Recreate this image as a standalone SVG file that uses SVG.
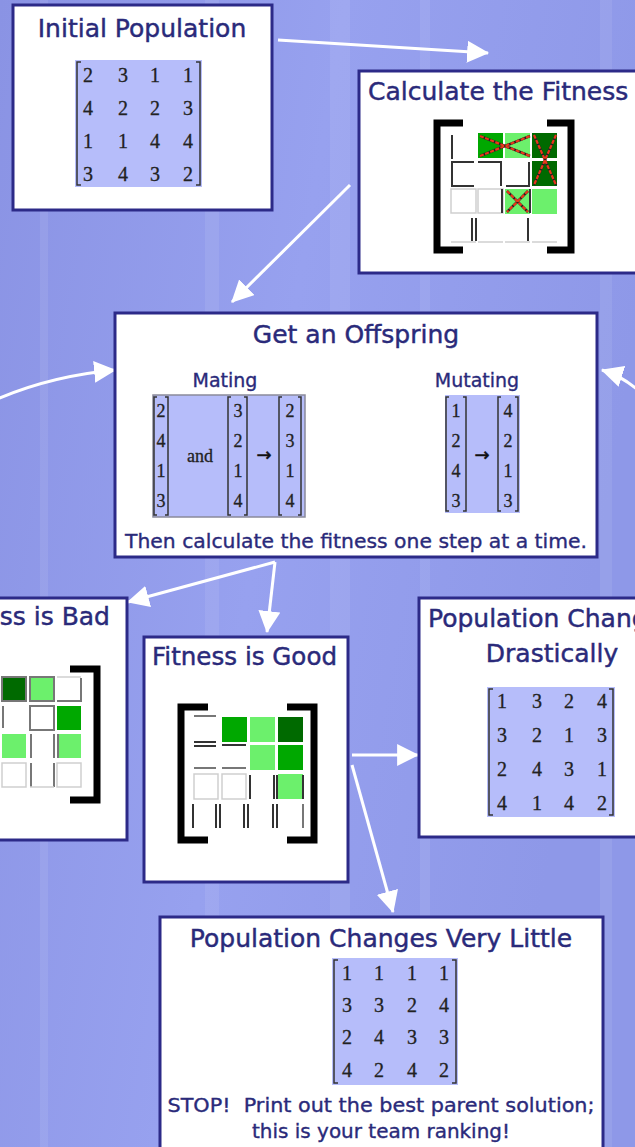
<svg xmlns="http://www.w3.org/2000/svg" width="635" height="1147" viewBox="0 0 635 1147">
<defs>
<linearGradient id="bg" x1="0" y1="0" x2="1" y2="0.3">
<stop offset="0" stop-color="#8a93e4"/>
<stop offset="0.5" stop-color="#97a1ef"/>
<stop offset="1" stop-color="#8e98e8"/>
</linearGradient>
<marker id="ah" viewBox="0 0 20 20" refX="19" refY="10" markerWidth="22" markerHeight="22" markerUnits="userSpaceOnUse" orient="auto">
<path d="M0,0 L20,10 L0,20 z" fill="#ffffff"/>
</marker>
<style>
.box{fill:#ffffff;stroke:#2c2a88;stroke-width:3}
.title{font-family:"DejaVu Sans",sans-serif;font-size:25px;fill:#2a2a7a;stroke:#2a2a7a;stroke-width:0.45}
.sub{font-family:"DejaVu Sans",sans-serif;font-size:19px;fill:#2a2a7a;stroke:#2a2a7a;stroke-width:0.35}
.num{font-family:"Liberation Serif",serif;font-size:20px;fill:#222;text-anchor:middle;stroke:#222;stroke-width:0.3}
.numS{font-family:"Liberation Serif",serif;font-size:18px;fill:#222;text-anchor:middle;stroke:#222;stroke-width:0.3}
.arr{font-family:"DejaVu Sans",sans-serif;font-size:18px;fill:#111;text-anchor:middle;stroke:#111;stroke-width:0.5}
.mbg{fill:#b6bdfa}
.brk{fill:none;stroke:#333;stroke-width:1.5}
.big{fill:none;stroke:#000;stroke-width:7}
.conn{fill:none;stroke:#ffffff;stroke-width:3;marker-end:url(#ah)}
.dg{fill:#006a00}
.mg{fill:#00a800}
.lg{fill:#6cf06c}
.dk{fill:none;stroke:#333;stroke-width:2}
.lt{fill:none;stroke:#cfcfcf;stroke-width:1.5}
.md{fill:none;stroke:#777;stroke-width:2}
.rxb{fill:none;stroke:#222;stroke-width:2.6}
.rx{fill:none;stroke:#e8381a;stroke-width:2.2;stroke-dasharray:4 1.5}
</style>
</defs>
<rect x="0" y="0" width="635" height="1147" fill="url(#bg)"/>
<g opacity="0.08" fill="#ffffff">
<rect x="205" y="0" width="14" height="1147"/>
<rect x="330" y="0" width="20" height="1147"/>
<rect x="600" y="0" width="12" height="1147"/>
<rect x="40" y="0" width="8" height="1147"/>
<rect x="420" y="0" width="10" height="1147"/>
</g>

<g id="connectors">
<line class="conn" x1="278" y1="40" x2="488" y2="53"/>
<line class="conn" x1="350" y1="185" x2="232" y2="302"/>
<path class="conn" d="M-5,400 Q50,376 115,370"/>
<path class="conn" d="M640,392 Q624,377 602,370"/>
<line class="conn" x1="275" y1="562" x2="128" y2="602"/>
<line class="conn" x1="275" y1="562" x2="267" y2="632"/>
<line class="conn" x1="352" y1="755" x2="418" y2="755"/>
<line class="conn" x1="352" y1="765" x2="393" y2="912"/>
</g>

<g id="initial-population">
<rect class="box" x="13" y="5" width="259" height="205"/>
<text class="title" x="142" y="37" text-anchor="middle">Initial Population</text>
<rect class="mbg" x="75" y="60" width="127" height="127"/>
<path class="brk" d="M81,62 H77 V185 H81 M196,62 H200 V185 H196"/>
<text class="num" x="88" y="82">2</text><text class="num" x="123" y="82">3</text><text class="num" x="155" y="82">1</text><text class="num" x="188" y="82">1</text>
<text class="num" x="88" y="115">4</text><text class="num" x="123" y="115">2</text><text class="num" x="155" y="115">2</text><text class="num" x="188" y="115">3</text>
<text class="num" x="88" y="148">1</text><text class="num" x="123" y="148">1</text><text class="num" x="155" y="148">4</text><text class="num" x="188" y="148">4</text>
<text class="num" x="88" y="181">3</text><text class="num" x="123" y="181">4</text><text class="num" x="155" y="181">3</text><text class="num" x="188" y="181">2</text>
</g>

<g id="calculate-fitness">
<rect class="box" x="359" y="71" width="300" height="202"/>
<text class="title" x="368" y="100">Calculate the Fitness</text>
<path class="big" d="M463,123 H437 V250 H463 M547,123 H571 V250 H547"/>
<rect class="mg" x="478" y="133" width="25" height="25"/>
<rect class="lg" x="505" y="133" width="25" height="25"/>
<rect class="dg" x="532" y="133" width="25" height="25"/>
<rect class="dg" x="532" y="161" width="25" height="25"/>
<rect class="lg" x="505" y="189" width="25" height="25"/>
<rect class="lg" x="532" y="189" width="25" height="25"/>
<path class="dk" d="M452,135 V159"/>
<path class="dk" d="M474,162 H452 V186 H474 M478,162 H501 V186 M506,186 H529 V162"/>
<path class="lt" d="M451,189 H476 V213 H451 Z M478,189 H503 V213 H478 Z M451,242 H476 M478,242 H503 M505,242 H530 M532,242 H557"/>
<path class="dk" d="M502,189 V213 M530,189 V213"/>
<path class="dk" d="M472,218 V241 M476,218 V241 M528,218 V241"/>
<path class="rxb" d="M480,136 L530,156 M480,156 L530,136 M534,135 L556,185 M556,135 L534,185 M507,191 L528,212 M528,191 L507,212"/>
<path class="rx" d="M480,136 L530,156 M480,156 L530,136 M534,135 L556,185 M556,135 L534,185 M507,191 L528,212 M528,191 L507,212"/>
</g>

<g id="get-offspring">
<rect class="box" x="115" y="313" width="482" height="244"/>
<text class="title" x="356" y="343" text-anchor="middle">Get an Offspring</text>
<text class="sub" x="225" y="387" text-anchor="middle">Mating</text>
<text class="sub" x="477" y="387" text-anchor="middle">Mutating</text>
<rect class="mbg" x="153" y="395" width="152" height="122" stroke="#8a8a9a" stroke-width="1.5"/>
<path class="brk" d="M157,397 H154 V515 H157 M165,397 H168 V515 H165 M231,397 H228 V515 H231 M244,397 H247 V515 H244 M282,397 H279 V515 H282 M298,397 H301 V515 H298"/>
<text class="numS" x="161" y="417">2</text><text class="numS" x="161" y="447">4</text><text class="numS" x="161" y="477">1</text><text class="numS" x="161" y="507">3</text>
<text class="numS" x="200" y="462">and</text>
<text class="numS" x="238" y="417">3</text><text class="numS" x="238" y="447">2</text><text class="numS" x="238" y="477">1</text><text class="numS" x="238" y="507">4</text>
<text class="arr" x="264" y="461">→</text>
<text class="numS" x="290" y="417">2</text><text class="numS" x="290" y="447">3</text><text class="numS" x="290" y="477">1</text><text class="numS" x="290" y="507">4</text>
<rect class="mbg" x="445" y="395" width="75" height="118"/>
<path class="brk" d="M449,397 H446 V511 H449 M463,397 H466 V511 H463 M501,397 H498 V511 H501 M515,397 H518 V511 H515"/>
<text class="numS" x="456" y="417">1</text><text class="numS" x="456" y="447">2</text><text class="numS" x="456" y="477">4</text><text class="numS" x="456" y="507">3</text>
<text class="arr" x="482" y="461">→</text>
<text class="numS" x="508" y="417">4</text><text class="numS" x="508" y="447">2</text><text class="numS" x="508" y="477">1</text><text class="numS" x="508" y="507">3</text>
<text class="sub" x="356" y="548" text-anchor="middle" textLength="462" lengthAdjust="spacingAndGlyphs">Then calculate the fitness one step at a time.</text>
</g>

<g id="fitness-bad">
<rect class="box" x="-80" y="598" width="207" height="242"/>
<text class="title" x="110" y="625" text-anchor="end">Fitness is Bad</text>
<path class="big" d="M70,669 H97 V800 H70"/>
<rect class="dg" x="2" y="677" width="24" height="24"/>
<rect class="lg" x="30" y="677" width="24" height="24"/>
<rect class="mg" x="57" y="706" width="24" height="24"/>
<rect class="lg" x="2" y="734" width="24" height="24"/>
<rect class="lg" x="57" y="734" width="24" height="24"/>
<path class="md" d="M2,677 H26 V701 H2 Z M30,677 H54 V701 H30 Z M81,678 V701 H57"/>
<path class="lt" d="M57,677 H81 M2,763 H26 V787 H2 Z M57,763 H81 V787 H57 Z"/>
<path class="md" d="M3,706 V728 M30,706 H54 V730 H30 Z M31,734 V758 M54,734 V758 M58,734 V758 M31,763 V787 M54,763 V787"/>
<path class="lt" d="M30,787 H54"/>
</g>

<g id="fitness-good">
<rect class="box" x="144" y="637" width="204" height="245"/>
<text class="title" x="152" y="665" textLength="185" lengthAdjust="spacingAndGlyphs">Fitness is Good</text>
<path class="big" d="M208,707 H181 V840 H208 M287,707 H314 V840 H287"/>
<rect class="mg" x="222" y="717" width="25" height="25"/>
<rect class="lg" x="250" y="717" width="25" height="25"/>
<rect class="dg" x="278" y="717" width="25" height="25"/>
<rect class="lg" x="250" y="745" width="25" height="25"/>
<rect class="mg" x="278" y="745" width="25" height="25"/>
<rect class="lg" x="278" y="774" width="25" height="25"/>
<path class="md" d="M194,716 H216"/>
<path class="dk" d="M194,742 H216 M194,746 H216 M222,745 H246"/>
<path class="md" d="M194,768 H216 M222,768 H246"/>
<path class="lt" d="M194,774 H218 V799 H194 Z M222,774 H246 V799 H222 Z"/>
<path class="dk" d="M250,775 V799 M274,775 V799 M277,775 V799 M303,775 V799"/>
<path class="dk" d="M193,804 V828 M216,804 V828 M220,804 V828 M244,804 V828 M248,804 V828 M273,804 V828 M277,804 V828"/>
<path class="md" d="M303,804 V828"/>
</g>

<g id="population-drastic">
<rect class="box" x="419" y="598" width="266" height="239"/>
<text class="title" x="552" y="627" text-anchor="middle">Population Changes</text>
<text class="title" x="552" y="662" text-anchor="middle">Drastically</text>
<rect class="mbg" x="487" y="687" width="128" height="130"/>
<path class="brk" d="M493,689 H489 V815 H493 M609,689 H613 V815 H609"/>
<text class="num" x="502" y="708">1</text><text class="num" x="537" y="708">3</text><text class="num" x="569" y="708">2</text><text class="num" x="602" y="708">4</text>
<text class="num" x="502" y="742">3</text><text class="num" x="537" y="742">2</text><text class="num" x="569" y="742">1</text><text class="num" x="602" y="742">3</text>
<text class="num" x="502" y="776">2</text><text class="num" x="537" y="776">4</text><text class="num" x="569" y="776">3</text><text class="num" x="602" y="776">1</text>
<text class="num" x="502" y="810">4</text><text class="num" x="537" y="810">1</text><text class="num" x="569" y="810">4</text><text class="num" x="602" y="810">2</text>
</g>

<g id="population-little">
<rect class="box" x="160" y="917" width="443" height="250"/>
<text class="title" x="381" y="947" text-anchor="middle">Population Changes Very Little</text>
<rect class="mbg" x="332" y="958" width="126" height="127"/>
<path class="brk" d="M338,960 H334 V1083 H338 M452,960 H456 V1083 H452"/>
<text class="num" x="347" y="980">1</text><text class="num" x="379" y="980">1</text><text class="num" x="412" y="980">1</text><text class="num" x="444" y="980">1</text>
<text class="num" x="347" y="1012">3</text><text class="num" x="379" y="1012">3</text><text class="num" x="412" y="1012">2</text><text class="num" x="444" y="1012">4</text>
<text class="num" x="347" y="1044">2</text><text class="num" x="379" y="1044">4</text><text class="num" x="412" y="1044">3</text><text class="num" x="444" y="1044">3</text>
<text class="num" x="347" y="1077">4</text><text class="num" x="379" y="1077">2</text><text class="num" x="412" y="1077">4</text><text class="num" x="444" y="1077">2</text>
<text class="sub" x="381" y="1112" text-anchor="middle" textLength="427" lengthAdjust="spacingAndGlyphs" style="white-space:pre">STOP!  Print out the best parent solution;</text>
<text class="sub" x="381" y="1138" text-anchor="middle" textLength="258" lengthAdjust="spacingAndGlyphs">this is your team ranking!</text>
</g>
</svg>
